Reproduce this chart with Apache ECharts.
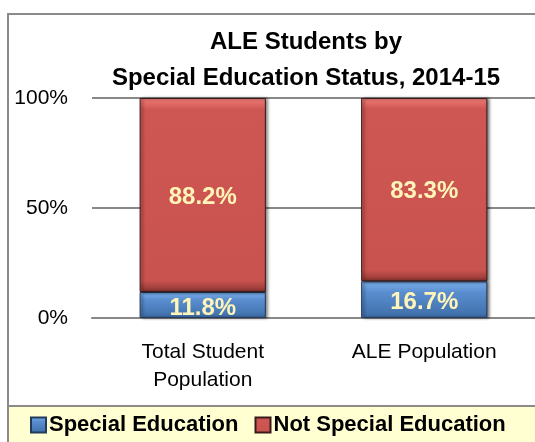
<!DOCTYPE html>
<html>
<head>
<meta charset="utf-8">
<script src="https://cdn.jsdelivr.net/npm/echarts@6/dist/echarts.min.js"></script>
<style>
html, body { margin: 0; padding: 0; background: #fff; }
#main { width: 535px; height: 442px; }
</style>
</head>
<body>
<div id="main"></div>
<script>
// chart data
const categories = ['Total Student\nPopulation', 'ALE Population'];
const specialEd = [11.8, 16.7];
const notSpecialEd = [88.2, 83.3];
const yTicks = [0, 50, 100];

const font = '"Liberation Sans", Arial, sans-serif';
const labelColor = '#FFF5B8';

let chart = echarts.init(document.getElementById('main'));
let option = {
    animation: false,
    backgroundColor: '#fff',
    title: {
        text: 'ALE Students by\nSpecial Education Status, 2014-15',
        left: 301,
        textAlign: 'center',
        top: 19,
        textStyle: {
            fontFamily: font,
            fontSize: 24,
            fontWeight: 'bold',
            lineHeight: 36,
            color: '#000'
        }
    },
    graphic: [
        {
            type: 'rect',
            z: -10,
            shape: { x: 8, y: 14, width: 540, height: 440 },
            style: { fill: '#fff', stroke: '#8a8a8a', lineWidth: 2 }
        },
        {
            type: 'rect',
            z: -5,
            shape: { x: 8, y: 406, width: 540, height: 40 },
            style: { fill: '#FFFFD2', stroke: '#8a8a8a', lineWidth: 2 }
        }
    ],
    legend: {
        bottom: 1,
        left: 25,
        itemWidth: 15,
        itemHeight: 15,
        itemGap: 16,
        icon: 'rect',
        textStyle: {
            fontFamily: font,
            fontSize: 22,
            fontWeight: 'bold',
            color: '#000',
            padding: [0, 0, 0, -2]
        },
        data: ['Special Education', 'Not Special Education']
    },
    grid: {
        left: 92,
        right: -3,
        top: 98,
        bottom: 124
    },
    xAxis: {
        type: 'category',
        data: categories,
        axisTick: { show: false },
        axisLine: { lineStyle: { color: '#888', width: 2 } },
        axisLabel: {
            fontFamily: font,
            fontSize: 21,
            color: '#000',
            lineHeight: 28,
            margin: 20
        }
    },
    yAxis: {
        type: 'value',
        min: 0,
        max: 100,
        interval: 50,
        axisLine: { show: false },
        axisTick: { show: false },
        splitLine: { lineStyle: { color: '#888', width: 2 } },
        axisLabel: {
            fontFamily: font,
            fontSize: 21,
            color: '#000',
            margin: 24,
            formatter: v => yTicks.includes(v) ? v + '%' : ''
        }
    },
    series: [
        {
            name: 'Special Education',
            type: 'bar',
            stack: 'all',
            barWidth: '57%',
            data: specialEd,
            itemStyle: {
                color: {
                    type: 'linear', x: 0, y: 0, x2: 0, y2: 1,
                    colorStops: [
                        { offset: 0, color: '#7AAEE8' },
                        { offset: 0.3, color: '#5A8ED0' },
                        { offset: 1, color: '#3E6EA8' }
                    ]
                },
                borderColor: '#233a5a',
                borderWidth: 1,
                shadowColor: 'rgba(0,0,0,0.6)',
                shadowBlur: 3,
                shadowOffsetX: 2
            },
            label: {
                show: true,
                position: 'inside',
                offset: [0, 3],
                formatter: p => p.value.toFixed(1) + '%',
                fontFamily: font,
                fontSize: 24,
                fontWeight: 'bold',
                color: labelColor
            }
        },
        {
            name: 'Not Special Education',
            type: 'bar',
            stack: 'all',
            barWidth: '57%',
            data: notSpecialEd,
            itemStyle: {
                color: {
                    type: 'linear', x: 0, y: 0, x2: 0, y2: 1,
                    colorStops: [
                        { offset: 0, color: '#F07C78' },
                        { offset: 0.06, color: '#CF5753' },
                        { offset: 0.94, color: '#C9534F' },
                        { offset: 1, color: '#8E3532' }
                    ]
                },
                borderColor: '#3a1a1a',
                borderWidth: 1,
                shadowColor: 'rgba(0,0,0,0.6)',
                shadowBlur: 3,
                shadowOffsetX: 2
            },
            label: {
                show: true,
                position: 'inside',
                offset: [0, 2],
                formatter: p => p.value.toFixed(1) + '%',
                fontFamily: font,
                fontSize: 24,
                fontWeight: 'bold',
                color: labelColor
            }
        }
    ]
};
chart.setOption(option);
</script>
</body>
</html>
